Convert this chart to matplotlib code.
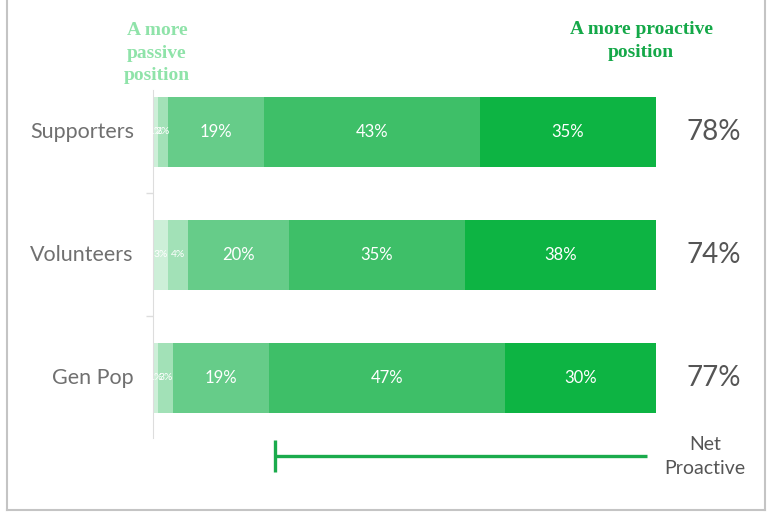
import matplotlib.pyplot as plt
from matplotlib.lines import Line2D

groups = ["Gen Pop", "Volunteers", "Supporters"]
seg1 = [1, 3, 1]
seg2 = [3, 4, 2]
seg3 = [19, 20, 19]
seg4 = [47, 35, 43]
seg5 = [30, 38, 35]
net_proactive = [77, 74, 78]

colors = ["#cdefd8", "#a2e1b7", "#66cc89", "#3ebf68", "#0db443"]

fig = plt.figure(figsize=(7.68, 5.12), dpi=100)
ax = fig.add_axes([153 / 768, 1 - 438 / 512, (656 - 153) / 768, 348 / 512])

ypos = range(len(groups))
left = [0, 0, 0]
for vals, col in zip([seg1, seg2, seg3, seg4, seg5], colors):
    ax.barh(ypos, vals, left=left, height=0.57, color=col, linewidth=0)
    for i, v in enumerate(vals):
        fs = 12 if v >= 10 else 7.5
        ax.text(left[i] + v / 2, i, f"{v}%", ha="center", va="center",
                color="white", fontsize=fs, family="Lato")
    left = [l + v for l, v in zip(left, vals)]

ax.set_xlim(0, 100)
ax.set_ylim(-0.49, 2.34)
ax.set_xticks([])
ax.set_yticks([0.5, 1.5])
ax.set_yticklabels([])
ax.tick_params(axis="y", length=5, color="#dddddd", width=1)
for s in ["top", "right", "bottom"]:
    ax.spines[s].set_visible(False)
ax.spines["left"].set_color("#dddddd")

# category names on the left, net totals on the right
for i, g in enumerate(groups):
    ax.text(-3.8, i, g, ha="right", va="center", fontsize=15.5,
            color="#707070", family="Lato")
    ax.text(111.5, i, f"{net_proactive[i]}%", ha="center", va="center",
            fontsize=20, color="#555555", family="Lato")

# net proactive bracket
ax.plot([24.3, 98.2], [-0.636, -0.636], color="#1aab4c", lw=2.4, clip_on=False,
        solid_capstyle="butt")
ax.plot([24.3, 24.3], [-0.51, -0.77], color="#1aab4c", lw=2.4, clip_on=False,
        solid_capstyle="butt")
ax.text(109.8, -0.64, "Net\nProactive", ha="center", va="center", fontsize=14,
        color="#555555", family="Lato", linespacing=1.55)

fig.text(157 / 768, 1 - 53 / 512, "A more\npassive\nposition", ha="center",
         va="center", fontsize=14, color="#8fe3a9", fontweight="bold",
         family="Liberation Serif", linespacing=1.4)
fig.text(641 / 768, 1 - 41 / 512, "A more proactive\nposition", ha="center",
         va="center", fontsize=14, color="#14a848", fontweight="bold",
         family="Liberation Serif", linespacing=1.4)

# card frame
for xs, ys in [([7, 7], [0, 510]), ([7, 765], [510, 510]), ([765, 765], [0, 510])]:
    fig.add_artist(Line2D([x / 768 for x in xs], [1 - y / 512 for y in ys],
                          color="#c4c4c4", lw=1.5))

fig.savefig("out.png", dpi=100, facecolor="white")
